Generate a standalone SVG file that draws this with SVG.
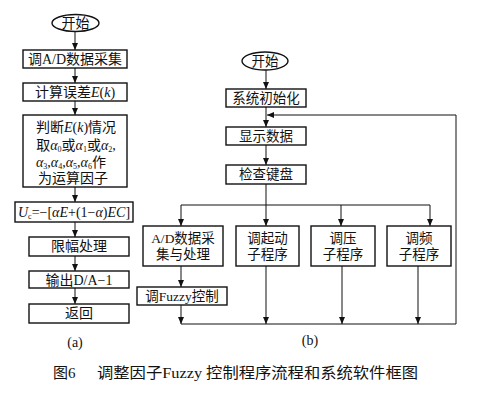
<svg xmlns="http://www.w3.org/2000/svg" width="490" height="403" viewBox="0 0 490 403">
<defs>
<marker id="ar" markerUnits="userSpaceOnUse" markerWidth="8" markerHeight="8" refX="7" refY="3" orient="auto">
<path d="M0,0 L7,3 L0,6 z" fill="#111"/>
</marker>
<style>
text{font-family:"Liberation Serif","Noto Sans CJK SC",serif;font-size:13.5px;fill:#111;text-anchor:middle}
.a{font-size:14px}
.bx{fill:#fff;stroke:#111;stroke-width:1.4}
.ln{fill:none;stroke:#111;stroke-width:1}
.ar{fill:none;stroke:#111;stroke-width:1;marker-end:url(#ar)}
.i{font-style:italic}
.s{font-size:8px}
.cap{font-size:15px;text-anchor:start}
</style>
</defs>
<rect width="490" height="403" fill="#fff"/>
<g id="connectors">
<line class="ar" x1="75" y1="31" x2="75" y2="50"/>
<line class="ar" x1="75" y1="68" x2="75" y2="83"/>
<line class="ar" x1="75" y1="101" x2="75" y2="115"/>
<line class="ar" x1="75" y1="187" x2="75" y2="202"/>
<line class="ar" x1="75" y1="222" x2="75" y2="237"/>
<line class="ar" x1="75" y1="256" x2="75" y2="271"/>
<line class="ar" x1="75" y1="288" x2="75" y2="304"/>
<line class="ar" x1="266" y1="70" x2="266" y2="89"/>
<line class="ar" x1="266" y1="107" x2="266" y2="127"/>
<polyline class="ar" points="456,324 456,115 267,115"/>
<line class="ar" x1="266" y1="145" x2="266" y2="165"/>
<line class="ln" x1="266" y1="184" x2="266" y2="205"/>
<line class="ln" x1="181" y1="205" x2="430" y2="205"/>
<line class="ar" x1="181" y1="205" x2="181" y2="226"/>
<line class="ar" x1="266" y1="205" x2="266" y2="226"/>
<line class="ar" x1="341" y1="205" x2="341" y2="226"/>
<line class="ar" x1="430" y1="205" x2="430" y2="226"/>
<line class="ar" x1="181" y1="266" x2="181" y2="287"/>
<line class="ar" x1="181" y1="305" x2="181" y2="324"/>
<line class="ar" x1="266" y1="266" x2="266" y2="324"/>
<line class="ar" x1="342" y1="266" x2="342" y2="324"/>
<line class="ar" x1="418" y1="266" x2="418" y2="324"/>
<line class="ln" x1="181" y1="324" x2="456" y2="324"/>
</g>
<g id="a-start"><ellipse class="bx" cx="75.5" cy="23" rx="23.5" ry="8.5"/><text class="a" x="75.5" y="28">开始</text></g>
<g id="a-adc"><rect class="bx" x="23" y="50" width="104" height="18"/><text class="a" x="75" y="64">调A/D数据采集</text></g>
<g id="a-err"><rect class="bx" x="23" y="83" width="104" height="18"/><text class="a" x="75" y="97">计算误差<tspan class="i">E</tspan>(<tspan class="i">k</tspan>)</text></g>
<g id="a-judge"><rect class="bx" x="23" y="115" width="104" height="72"/>
<text class="a" x="76" y="132">判断<tspan class="i">E</tspan>(<tspan class="i">k</tspan>)情况</text>
<text class="a" x="76" y="150">取<tspan class="i">α</tspan><tspan class="s" dy="2">0</tspan><tspan dy="-2">或</tspan><tspan class="i">α</tspan><tspan class="s" dy="2">1</tspan><tspan dy="-2">或</tspan><tspan class="i">α</tspan><tspan class="s" dy="2">2</tspan><tspan dy="-2">,</tspan></text>
<text class="a" x="36" y="167" style="text-anchor:start"><tspan class="i">α</tspan><tspan class="s" dy="2">3</tspan><tspan dy="-2">,</tspan><tspan class="i">α</tspan><tspan class="s" dy="2">4</tspan><tspan dy="-2">,</tspan><tspan class="i">α</tspan><tspan class="s" dy="2">5</tspan><tspan dy="-2">,</tspan><tspan class="i">α</tspan><tspan class="s" dy="2">6</tspan><tspan dy="-2">作</tspan></text>
<text class="a" x="73" y="183">为运算因子</text></g>
<g id="a-uc"><rect class="bx" x="15" y="202" width="118" height="20"/><text class="a" x="74" y="217"><tspan class="i">U</tspan><tspan class="s" dy="2">c</tspan><tspan dy="-2">=−[</tspan><tspan class="i">αE</tspan>+(1−<tspan class="i">α</tspan>)<tspan class="i">EC</tspan>]</text></g>
<g id="a-limit"><rect class="bx" x="29" y="237" width="100" height="19"/><text class="a" x="79" y="251">限幅处理</text></g>
<g id="a-out"><rect class="bx" x="29" y="271" width="100" height="17"/><text class="a" x="79" y="285">输出D/A−1</text></g>
<g id="a-ret"><rect class="bx" x="29" y="304" width="100" height="19"/><text class="a" x="79" y="318">返回</text></g>
<text class="a" x="75" y="347">(a)</text>
<g id="b-start"><ellipse class="bx" cx="265" cy="61" rx="23" ry="9"/><text x="265" y="66">开始</text></g>
<g id="b-init"><rect class="bx" x="226" y="89" width="80" height="18"/><text x="266" y="103">系统初始化</text></g>
<g id="b-disp"><rect class="bx" x="226" y="127" width="80" height="18"/><text x="266" y="141">显示数据</text></g>
<g id="b-key"><rect class="bx" x="226" y="165" width="80" height="19"/><text x="266" y="179">检查键盘</text></g>
<g id="b-adc"><rect class="bx" x="143" y="226" width="80" height="40"/><text x="183" y="243">A/D数据采</text><text x="183" y="259">集与处理</text></g>
<g id="b-start2"><rect class="bx" x="236" y="226" width="63" height="40"/><text x="267.5" y="243">调起动</text><text x="267.5" y="259">子程序</text></g>
<g id="b-volt"><rect class="bx" x="311" y="226" width="64" height="40"/><text x="343" y="243">调压</text><text x="343" y="259">子程序</text></g>
<g id="b-freq"><rect class="bx" x="387" y="226" width="64" height="40"/><text x="419" y="243">调频</text><text x="419" y="259">子程序</text></g>
<g id="b-fuzzy"><rect class="bx" x="137" y="287" width="90" height="18"/><text x="182" y="301">调Fuzzy控制</text></g>
<text class="a" x="310" y="345">(b)</text>
<text class="cap" x="53" y="378">图6</text>
<text class="cap" x="97" y="378" textLength="321" lengthAdjust="spacingAndGlyphs">调整因子Fuzzy 控制程序流程和系统软件框图</text>
</svg>
